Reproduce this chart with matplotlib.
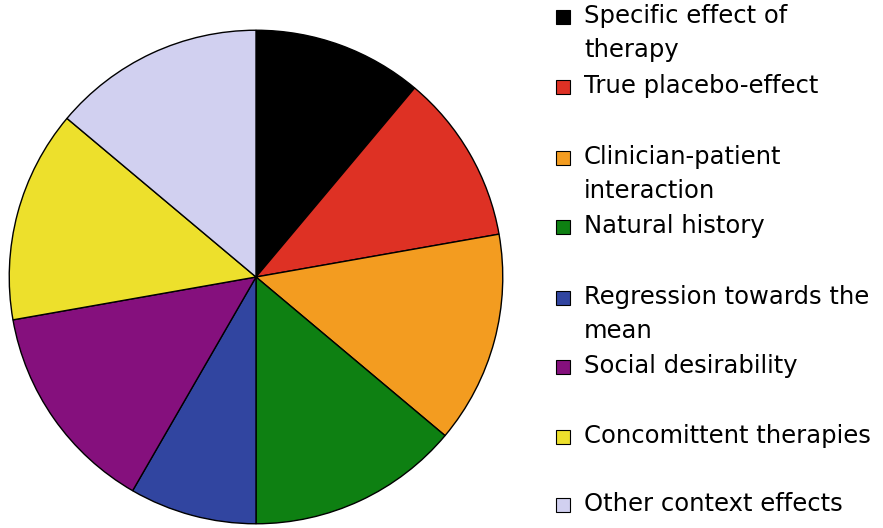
import matplotlib
matplotlib.use("Agg")
import matplotlib.pyplot as plt
from matplotlib.patches import Rectangle

labels = ["Specific effect of\ntherapy", "True placebo-effect", "Clinician-patient\ninteraction",
          "Natural history", "Regression towards the\nmean", "Social desirability",
          "Concomittent therapies", "Other context effects"]
values = [40, 40, 50, 50, 30, 50, 50, 50]
colors = ["#000000", "#DE3124", "#F39C20", "#0E8012", "#3145A0", "#85107D", "#EDE02C", "#D1D0F0"]

W, H = 883, 528
fig = plt.figure(figsize=(W/100, H/100), dpi=100)
cx, cy, r = 256, 277, 248
ax = fig.add_axes([(cx - r)/W, (H - cy - r)/H, 2*r/W, 2*r/H])
ax.pie(values, colors=colors, startangle=90, counterclock=False,
       wedgeprops=dict(edgecolor="black", linewidth=1.0), radius=1)
ax.set_xlim(-1.005, 1.005)
ax.set_ylim(-1.005, 1.005)
ax.axis("off")

ys = [17, 87, 158, 227, 298, 367, 437, 505]
sq = 14
for lab, col, y in zip(labels, colors, ys):
    fig.patches.append(Rectangle(((556)/W, (H - y - sq/2)/H), sq/W, sq/H,
                                 transform=fig.transFigure, facecolor=col,
                                 edgecolor="black", linewidth=0.8))
    fig.text(584/W, (H - y + 13)/H, lab, ha="left", va="top", fontsize=17.5,
             family="DejaVu Sans", linespacing=1.5, color="black")

fig.savefig("out.png", dpi=100)
